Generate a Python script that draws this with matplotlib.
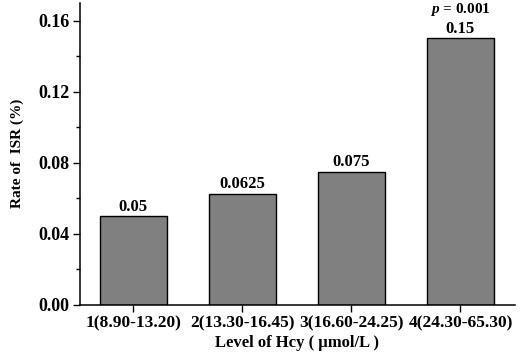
import matplotlib
matplotlib.use("Agg")
from matplotlib import pyplot as plt
from matplotlib.ticker import MultipleLocator
import numpy as np

groups = ["1(8.90-13.20)", "2(13.30-16.45)", "3(16.60-24.25)", "4(24.30-65.30)"]
rates = [0.05, 0.0625, 0.075, 0.15]
rate_labels = ["0.05", "0.0625", "0.075", "0.15"]

plt.rcParams['font.family'] = ['Liberation Serif', 'DejaVu Serif']
plt.rcParams['font.weight'] = 'bold'
plt.rcParams['mathtext.fontset'] = 'custom'
plt.rcParams['mathtext.it'] = 'Liberation Serif:italic'
plt.rcParams['mathtext.rm'] = 'Liberation Serif'

fig = plt.figure(figsize=(5.26, 3.57), dpi=100)
ax = fig.add_axes([0.152, 0.146, 0.827, 0.846])

x = np.arange(1, len(groups) + 1)
ax.bar(x, rates, width=0.61, color='#808080', edgecolor='black', linewidth=1.0)

for xi, r, lab in zip(x, rates, rate_labels):
    ax.text(xi, r + 0.0008, lab, ha='center', va='bottom', fontsize=12, fontweight='bold')
ax.text(x[-1], rates[-1] + 0.0115, r'$\it{p}$ = 0.001', ha='center', va='bottom',
        fontsize=11, fontweight='bold')

ax.set_xlim(0.51, 4.5)
ax.set_ylim(0, 0.17)
ax.set_xticks(x)
ax.set_xticklabels(groups, fontsize=12.5, fontweight='bold')
ax.yaxis.set_minor_locator(MultipleLocator(0.02))
ax.set_yticks([0, 0.04, 0.08, 0.12, 0.16])
ax.set_yticklabels(["0.00", "0.04", "0.08", "0.12", "0.16"], fontsize=13, fontweight='bold')
ax.tick_params(axis='both', which='major', direction='out', length=5, width=1, pad=2.5)
ax.tick_params(axis='y', which='minor', direction='out', length=3, width=1)

ax.spines['top'].set_visible(False)
ax.spines['right'].set_visible(False)
ax.spines['left'].set_linewidth(1.1)
ax.spines['bottom'].set_linewidth(1.1)

ax.set_xlabel("Level of Hcy ( \u03bcmol/L )", fontsize=12, fontweight='bold', labelpad=3)
ax.set_ylabel("Rate of  ISR (%)", fontsize=11, fontweight='bold', labelpad=10)

plt.savefig("out.png", dpi=100)
